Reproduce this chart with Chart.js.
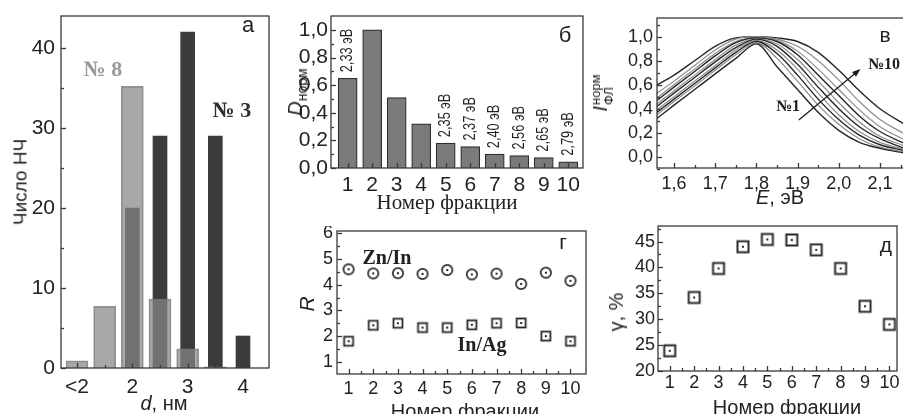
<!DOCTYPE html>
<html>
<head>
<meta charset="utf-8">
<script src="https://cdn.jsdelivr.net/npm/chart.js@4.4.1/dist/chart.umd.min.js"></script>
<style>
  html, body { margin: 0; padding: 0; background: #fff; }
  #wrap { position: relative; width: 903px; height: 414px; overflow: hidden; background: #fff; }
  canvas { position: absolute; }
  .t { position: absolute; white-space: nowrap; color: #222; line-height: 1;
       font-family: "Liberation Sans", Arial, sans-serif; transform: translate(-50%, -50%); }
  .rot { transform: translate(-50%, -50%) rotate(-90deg); }
  .serif { font-family: "Liberation Serif", "Times New Roman", serif; }
  .b { font-weight: bold; }
</style>
</head>
<body>
<div id="wrap"></div>
<script>
// ---- а: size histograms (fractions 8 and 3)
const sizePos8 = [1, 1.5, 2, 2.5, 3, 3.5];
const sizeCount8 = [0.9, 7.7, 35.2, 8.6, 2.4, 0.15];
const sizePos3 = [2, 2.5, 3, 3.5, 4];
const sizeCount3 = [20, 29, 42, 29, 4];
const sizeTicks = [1, 2, 3, 4];
const sizeTickLabels = ["<2", "2", "3", "4"];
const sizeMinor = [1.5, 2.5, 3.5];
const countTicks = [0, 10, 20, 30, 40];
const countMinor = [5, 15, 25, 35];

// ---- б: normalized optical density per fraction
const fractions = [1, 2, 3, 4, 5, 6, 7, 8, 9, 10];
const dNorm = [0.65, 1.0, 0.51, 0.32, 0.18, 0.155, 0.1, 0.09, 0.075, 0.045];
const edgeLabels = ["2,33 эВ", null, null, null, "2,35 эВ", "2,37 эВ", "2,40 эВ", "2,56 эВ", "2,65 эВ", "2,79 эВ"];
const normTicks = [0, 0.2, 0.4, 0.6, 0.8, 1.0];
const normMinor = [0.1, 0.3, 0.5, 0.7, 0.9];

// ---- в: PL spectra, fractions 1..10
const energyGrid = [1.555, 1.6, 1.65, 1.7, 1.75, 1.8, 1.85, 1.9, 1.95, 2.0, 2.05, 2.1, 2.16];
const pl1  = [0.31, 0.43, 0.56, 0.69, 0.82, 0.94, 0.75, 0.56, 0.37, 0.22, 0.12, 0.07, 0.03];
const pl2  = [0.34, 0.46, 0.59, 0.72, 0.85, 0.95, 0.82, 0.63, 0.43, 0.27, 0.15, 0.08, 0.04];
const pl3  = [0.36, 0.48, 0.61, 0.74, 0.87, 0.96, 0.86, 0.68, 0.48, 0.31, 0.18, 0.10, 0.05];
const pl4  = [0.38, 0.50, 0.63, 0.76, 0.89, 0.97, 0.89, 0.73, 0.53, 0.35, 0.21, 0.12, 0.06];
const pl5  = [0.41, 0.53, 0.66, 0.79, 0.91, 0.98, 0.92, 0.77, 0.58, 0.40, 0.25, 0.15, 0.07];
const pl6  = [0.43, 0.55, 0.68, 0.81, 0.93, 0.98, 0.94, 0.81, 0.63, 0.45, 0.29, 0.17, 0.09];
const pl7  = [0.46, 0.58, 0.71, 0.84, 0.95, 0.99, 0.96, 0.85, 0.68, 0.51, 0.34, 0.21, 0.11];
const pl8  = [0.48, 0.60, 0.73, 0.86, 0.96, 0.99, 0.97, 0.88, 0.73, 0.56, 0.39, 0.25, 0.14];
const pl9  = [0.52, 0.63, 0.76, 0.89, 0.98, 1.00, 0.98, 0.92, 0.80, 0.64, 0.46, 0.31, 0.19];
const pl10 = [0.59, 0.68, 0.80, 0.92, 0.99, 1.00, 0.99, 0.96, 0.87, 0.72, 0.55, 0.40, 0.27];
const plCurves = [pl1, pl2, pl3, pl4, pl5, pl6, pl7, pl8, pl9, pl10];
const plColors = ["#262626", "#8c8c8c", "#262626", "#8c8c8c", "#262626", "#8c8c8c", "#262626", "#8c8c8c", "#8c8c8c", "#262626"];
const energyTicks = [1.6, 1.7, 1.8, 1.9, 2.0, 2.1];
const energyMinor = [1.65, 1.75, 1.85, 1.95, 2.05, 2.15];
const plTicks = [0, 0.2, 0.4, 0.6, 0.8, 1.0];
const plMinor = [-0.1, 0.1, 0.3, 0.5, 0.7, 0.9, 1.1];

// ---- г: element ratios
const znIn = [4.6, 4.44, 4.45, 4.42, 4.57, 4.4, 4.43, 4.03, 4.47, 4.15];
const inAg = [1.8, 2.42, 2.5, 2.33, 2.33, 2.44, 2.5, 2.51, 2.0, 1.8];
const ratioTicks = [1, 2, 3, 4, 5, 6];
const ratioMinor = [1.5, 2.5, 3.5, 4.5, 5.5];

// ---- д: quantum yield
const quantumYield = [23.9, 34.2, 39.8, 44.0, 45.4, 45.3, 43.4, 39.8, 32.5, 29.0];
const yieldTicks = [20, 25, 30, 35, 40, 45];
const yieldMinor = [22.5, 27.5, 32.5, 37.5, 42.5, 47.5];
const fractionMinor = [1.5, 2.5, 3.5, 4.5, 5.5, 6.5, 7.5, 8.5, 9.5];

const SANS = "'Liberation Sans', Arial, sans-serif";
const INK = "#222";
const wrap = document.getElementById("wrap");

// inward ticks + full frame, Origin style
const framePlugin = {
  id: "frame",
  afterDatasetsDraw(chart, args, o) {
    const { ctx, chartArea: a } = chart;
    const { x, y } = chart.scales;
    ctx.save();
    ctx.strokeStyle = "#3a3a3a";
    ctx.lineWidth = 1.3;
    const tx = (vals, len) => (vals || []).forEach((v) => {
      const p = Math.round(x.getPixelForValue(v)) + 0.5;
      ctx.beginPath(); ctx.moveTo(p, a.bottom); ctx.lineTo(p, a.bottom - len); ctx.stroke();
    });
    const ty = (vals, len) => (vals || []).forEach((v) => {
      const p = Math.round(y.getPixelForValue(v)) + 0.5;
      ctx.beginPath(); ctx.moveTo(a.left, p); ctx.lineTo(a.left + len, p); ctx.stroke();
    });
    tx(o.majorX, 5); tx(o.minorX, 3);
    ty(o.majorY, 5); ty(o.minorY, 3);
    ctx.strokeRect(a.left, a.top, a.right - a.left, a.bottom - a.top);
    ctx.restore();
  },
};
Chart.register(framePlugin);

function axis(min, max, ticks, fmt, size, pad) {
  return {
    type: "linear", min, max, offset: false,
    grid: { display: false, drawTicks: false }, border: { display: false },
    afterBuildTicks: (s) => { s.ticks = ticks.map((v) => ({ value: v })); },
    ticks: { callback: fmt, color: INK, padding: pad, maxRotation: 0, autoSkip: false,
             font: { family: SANS, size } },
  };
}

const comma = (d) => (v) => v.toFixed(d).replace(".", ",");

function makePanel(box, m, config) {
  const c = document.createElement("canvas");
  const w = box.r - box.l + m.l + m.r;
  const h = box.b - box.t + m.t + m.b;
  c.width = w; c.height = h;
  c.style.left = box.l - m.l + "px";
  c.style.top = box.t - m.t + "px";
  c.style.width = w + "px";
  c.style.height = h + "px";
  wrap.appendChild(c);
  const o = config.options;
  o.responsive = false;
  o.animation = false;
  o.devicePixelRatio = 1;
  o.layout = { padding: { top: m.t, right: m.r, left: 0, bottom: 0 } };
  o.plugins = Object.assign({ legend: { display: false }, tooltip: { enabled: false } }, o.plugins);
  o.scales.x.afterFit = (s) => { s.height = m.b; s.paddingLeft = 0; s.paddingRight = 0; };
  o.scales.y.afterFit = (s) => { s.width = m.l; s.paddingTop = 0; s.paddingBottom = 0; };
  return new Chart(c, config);
}

function label(html, x, y, size, cls = "", color = INK) {
  const d = document.createElement("div");
  d.className = "t " + cls;
  d.style.left = x + "px";
  d.style.top = y + "px";
  d.style.fontSize = size + "px";
  d.style.color = color;
  d.innerHTML = html;
  wrap.appendChild(d);
}

function marker(size, draw) {
  const c = document.createElement("canvas");
  c.width = size; c.height = size;
  const g = c.getContext("2d");
  g.strokeStyle = "#2a2a2a";
  g.fillStyle = "#fff";
  draw(g, size / 2);
  g.fillStyle = "#2a2a2a";
  g.fillRect(size / 2 - 1, size / 2 - 1, 2, 2);
  return c;
}
const circleMark = marker(14, (g, c) => {
  g.lineWidth = 1.7; g.beginPath(); g.arc(c, c, 5.2, 0, Math.PI * 2); g.fill(); g.stroke();
});
const squareMarkSmall = marker(14, (g, c) => {
  g.lineWidth = 1.8; g.fillRect(c - 4.5, c - 4.5, 9, 9); g.strokeRect(c - 4.5, c - 4.5, 9, 9);
});
const squareMark = marker(16, (g, c) => {
  g.lineWidth = 2; g.fillRect(c - 5.5, c - 5.5, 11, 11); g.strokeRect(c - 5.5, c - 5.5, 11, 11);
});

// ---------- а ----------
makePanel({ l: 61, t: 16, r: 269, b: 368 }, { l: 60, t: 4, r: 4, b: 40 }, {
  type: "bar",
  data: {
    datasets: [
      { data: sizePos8.map((x, i) => ({ x, y: sizeCount8[i] })), grouped: false, barThickness: 22,
        backgroundColor: "rgba(134,134,134,0.72)", borderColor: "rgba(120,120,120,0.8)", borderWidth: 1 },
      { data: sizePos3.map((x, i) => ({ x, y: sizeCount3[i] })), grouped: false, barThickness: 14,
        backgroundColor: "#3b3b3b", borderWidth: 0 },
    ],
  },
  options: {
    plugins: { frame: { majorX: sizeTicks, minorX: sizeMinor, majorY: countTicks, minorY: countMinor } },
    scales: {
      x: axis(0.711, 4.47, sizeTicks, (v, i) => sizeTickLabels[i], 21, 7),
      y: axis(0, 44, countTicks, (v) => String(v), 21, 6),
    },
  },
});
label("Число НЧ", 20, 182, 19, "rot");
label("<i>d</i>, нм", 164, 403, 20);
label("а", 248, 25, 22);
label("№ 8", 103, 69, 22, "serif b", "#9a9a9a");
label("№ 3", 232, 110, 22, "serif b", "#2e2e2e");

// ---------- б ----------
const edgeText = {
  id: "edgeText",
  afterDatasetsDraw(chart) {
    const { ctx } = chart;
    ctx.save();
    ctx.fillStyle = INK;
    ctx.font = "16px " + SANS;
    ctx.textAlign = "left";
    ctx.textBaseline = "middle";
    chart.getDatasetMeta(0).data.forEach((bar, i) => {
      if (!edgeLabels[i]) return;
      ctx.save();
      ctx.translate(bar.x, bar.y - 6);
      ctx.rotate(-Math.PI / 2);
      ctx.scale(0.8, 1);
      ctx.fillText(edgeLabels[i], 0, 0);
      ctx.restore();
    });
    ctx.restore();
  },
};
makePanel({ l: 331, t: 16, r: 583, b: 168 }, { l: 60, t: 4, r: 4, b: 40 }, {
  type: "bar",
  data: {
    datasets: [{ data: fractions.map((x, i) => ({ x, y: dNorm[i] })), barThickness: 19,
                 backgroundColor: "#7b7b7b", borderColor: "#2e2e2e", borderWidth: 1.2 }],
  },
  options: {
    plugins: { frame: { majorX: fractions, majorY: normTicks, minorY: normMinor } },
    scales: {
      x: axis(0.32, 10.6, fractions, (v) => String(v), 21, 5),
      y: axis(0, 1.101, normTicks, comma(1), 21, 3),
    },
  },
  plugins: [edgeText],
});
label("<i>D</i><sub style='font-size:14px'>норм</sub>", 297, 92, 20, "rot");
label("Номер фракции", 447, 202, 21, "serif");
label("б", 565, 35, 22);

// ---------- в ----------
const arrowPlugin = {
  id: "arrow",
  afterDatasetsDraw(chart) {
    const { ctx } = chart;
    const { x, y } = chart.scales;
    const x0 = x.getPixelForValue(1.903), y0 = y.getPixelForValue(0.306);
    const x1 = x.getPixelForValue(2.049), y1 = y.getPixelForValue(0.72);
    const ang = Math.atan2(y1 - y0, x1 - x0);
    ctx.save();
    ctx.strokeStyle = "#1e1e1e";
    ctx.fillStyle = "#1e1e1e";
    ctx.lineWidth = 1.3;
    ctx.beginPath(); ctx.moveTo(x0, y0); ctx.lineTo(x1, y1); ctx.stroke();
    ctx.beginPath();
    ctx.moveTo(x1 + 2 * Math.cos(ang), y1 + 2 * Math.sin(ang));
    ctx.lineTo(x1 - 7 * Math.cos(ang - 0.45), y1 - 7 * Math.sin(ang - 0.45));
    ctx.lineTo(x1 - 7 * Math.cos(ang + 0.45), y1 - 7 * Math.sin(ang + 0.45));
    ctx.closePath(); ctx.fill();
    ctx.restore();
  },
};
makePanel({ l: 657, t: 18, r: 910, b: 168 }, { l: 60, t: 4, r: 0, b: 40 }, {
  type: "line",
  data: {
    datasets: plCurves.map((curve, k) => ({
      data: energyGrid.map((x, i) => ({ x, y: curve[i] })),
      borderColor: plColors[k], borderWidth: plColors[k] === "#262626" ? 1.4 : 1.2,
      pointRadius: 0, tension: 0.4, cubicInterpolationMode: "monotone", fill: false,
    })),
  },
  options: {
    plugins: { frame: { majorX: energyTicks, minorX: energyMinor, majorY: plTicks, minorY: plMinor } },
    scales: {
      x: axis(1.5587, 2.173, energyTicks, comma(1), 18, 5),
      y: axis(-0.094, 1.156, plTicks, comma(1), 18, 4),
    },
  },
  plugins: [arrowPlugin],
});
label("<i>I</i><span style='display:inline-block;vertical-align:middle;font-size:13px;line-height:1;margin-left:1px'>норм<br>ФЛ</span>",
      602, 93, 20, "rot");
label("<i>E</i>, эВ", 780, 197, 20);
label("в", 885, 34, 21);
label("№1", 788, 106, 16, "serif b", "#1e1e1e");
label("№10", 884, 64, 16, "serif b", "#1e1e1e");

// ---------- г ----------
makePanel({ l: 337, t: 230, r: 587, b: 374 }, { l: 60, t: 4, r: 4, b: 40 }, {
  type: "scatter",
  data: {
    datasets: [
      { data: fractions.map((x, i) => ({ x, y: znIn[i] })), pointStyle: circleMark },
      { data: fractions.map((x, i) => ({ x, y: inAg[i] })), pointStyle: squareMarkSmall },
    ],
  },
  options: {
    plugins: { frame: { majorX: fractions, minorX: fractionMinor, majorY: ratioTicks, minorY: ratioMinor } },
    scales: {
      x: axis(0.53, 10.63, fractions, (v) => String(v), 18, 4),
      y: axis(0.525, 6.09, ratioTicks, (v) => String(v), 18, 4),
    },
  },
});
label("<i>R</i>", 306, 304, 21, "rot");
label("Номер фракции", 465, 411, 20);
label("Zn/In", 387, 257, 20, "serif b");
label("In/Ag", 482, 344, 20, "serif b");
label("г", 563, 241, 21);

// ---------- д ----------
makePanel({ l: 658, t: 225, r: 898, b: 371 }, { l: 60, t: 4, r: 4, b: 40 }, {
  type: "scatter",
  data: {
    datasets: [{ data: fractions.map((x, i) => ({ x, y: quantumYield[i] })), pointStyle: squareMark }],
  },
  options: {
    plugins: { frame: { majorX: fractions, minorX: fractionMinor, majorY: yieldTicks, minorY: yieldMinor } },
    scales: {
      x: axis(0.52, 10.31, fractions, (v) => String(v), 18, 1),
      y: axis(20, 48, yieldTicks, (v) => String(v), 18, 3),
    },
  },
});
label("γ, %", 616, 312, 20, "rot");
label("Номер фракции", 787, 407, 20);
label("д", 886, 244, 21);
</script>
</body>
</html>
